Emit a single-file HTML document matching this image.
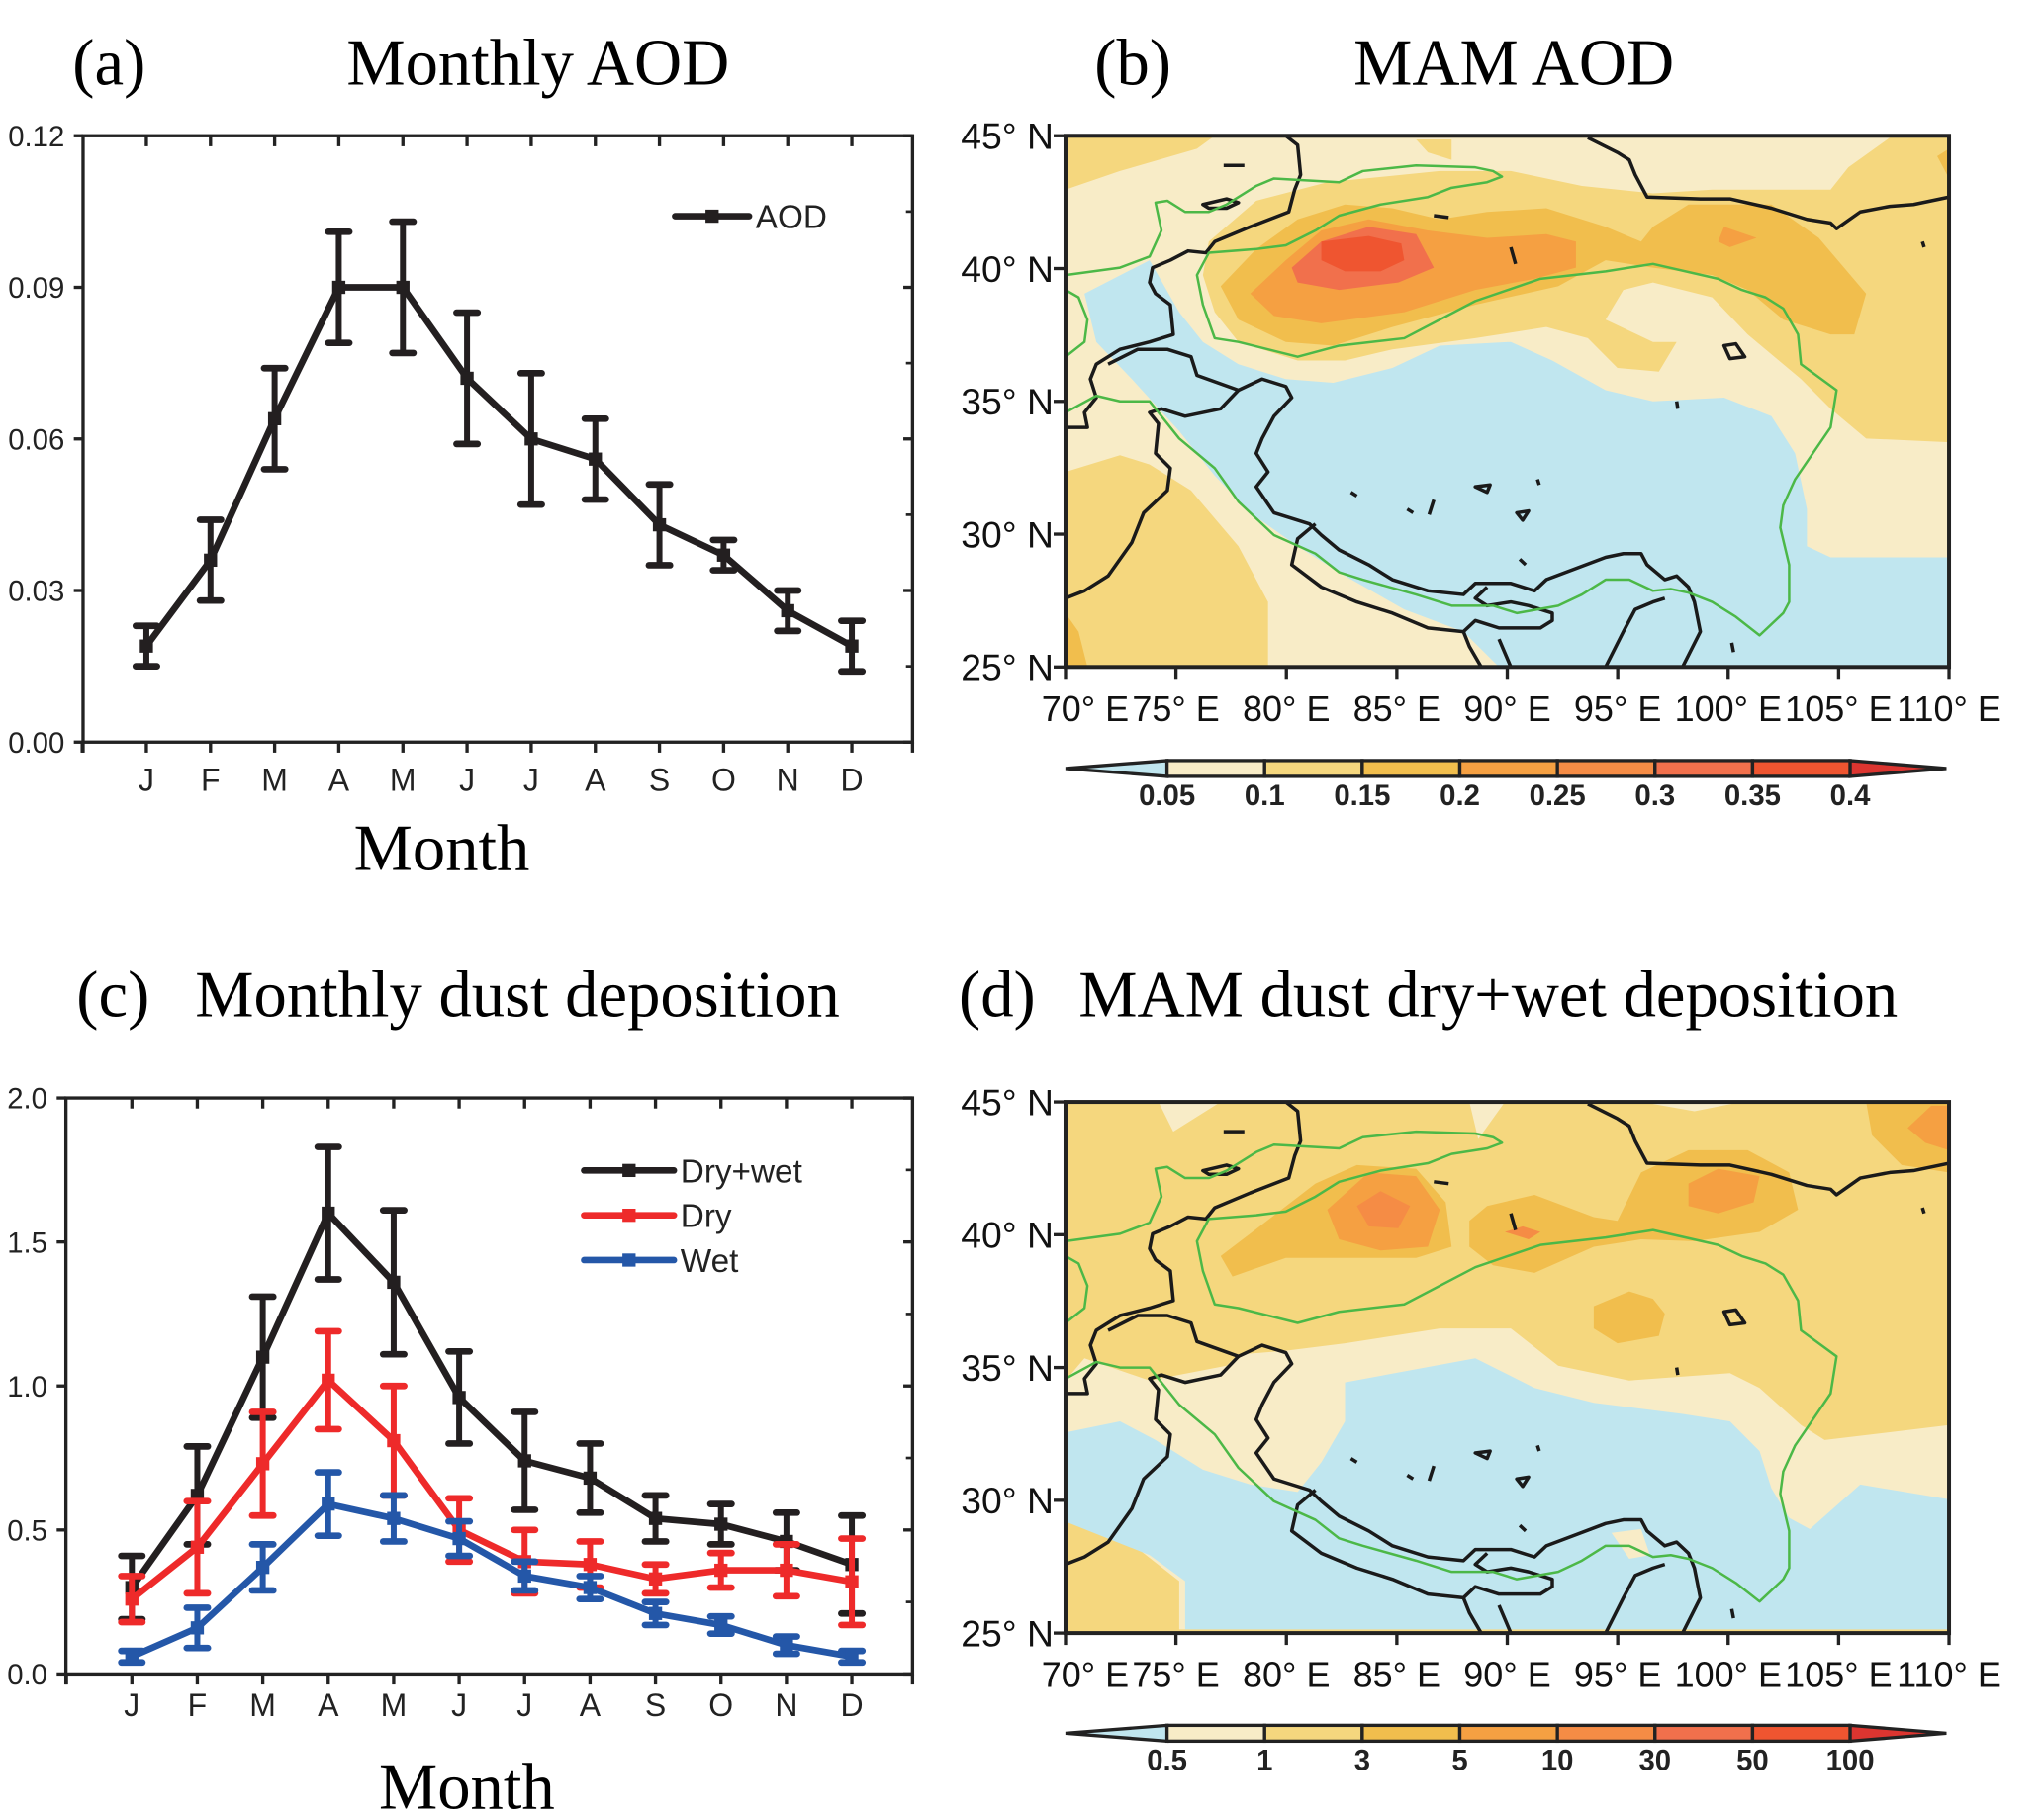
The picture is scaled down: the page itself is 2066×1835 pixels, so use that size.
<!DOCTYPE html>
<html><head><meta charset="utf-8"><style>
html,body{margin:0;padding:0;background:#fff;}
svg{display:block;}
.serif{font-family:"Liberation Serif",serif;}
.sans{font-family:"Liberation Sans",sans-serif;}
</style></head><body>
<svg id="root" width="2066" height="1835" viewBox="0 0 1550 1377" preserveAspectRatio="none" xmlns="http://www.w3.org/2000/svg">
<defs>
<g id="borders" fill="none" stroke="#1a1a1a" stroke-width="3.5" stroke-linejoin="round">
<path vector-effect="non-scaling-stroke" d="M380,45 L400,70 L405,150 L395,190 L385,250 L320,290 L260,330 L245,360 L215,355 L185,380 L155,400 L150,440 L160,470 L185,500 L190,580 L150,600 L100,620 L60,660 L50,700 L60,750 L40,790 L45,830 L8,830"/>
<path vector-effect="non-scaling-stroke" d="M8,1290 L40,1270 L80,1230 L120,1140 L140,1060 L180,1000 L185,940 L160,900 L165,820 L150,790 L170,780 L210,800 L270,780 L300,730 L230,690 L220,640 L180,620 L130,620 L80,660"/>
<path vector-effect="non-scaling-stroke" d="M300,730 L340,700 L380,720 L390,750 L360,800 L340,860 L330,900 L350,950 L330,990 L360,1060 L420,1090 L440,1120 L470,1160 L520,1200 L560,1240 L620,1270 L680,1280 L700,1250 L760,1250 L800,1270 L820,1240 L870,1210 L920,1180 L950,1170 L980,1170 L990,1200 L1020,1240 L1040,1230 L1060,1260 L1070,1300 L1080,1380 L1050,1475"/>
<path vector-effect="non-scaling-stroke" d="M430,1090 L400,1130 L390,1200 L440,1260 L500,1300 L560,1330 L620,1370 L680,1380 L700,1350 L740,1370 L810,1370 L830,1350 L830,1330 L790,1310 L760,1300 L720,1310 L700,1290 L720,1260"/>
<path vector-effect="non-scaling-stroke" d="M680,1380 L690,1420 L710,1475 M740,1400 L760,1475 M920,1475 L950,1380 L970,1320 L1000,1300 L1020,1290"/>
<path vector-effect="non-scaling-stroke" d="M890,50 L940,90 L960,110 L970,150 L990,210 L1080,215 L1130,215 L1200,240 L1260,270 L1300,280 L1310,295 L1350,250 L1400,235 L1440,230 L1500,210"/>
<path vector-effect="non-scaling-stroke" d="M240,230 L280,215 L300,225 L280,240 L250,240 Z M275,125 L310,125 M630,260 L655,265 M760,345 L768,390 M1120,610 L1140,605 L1155,640 L1130,645 Z M1040,760 L1042,780 M490,1005 L500,1015 M700,990 L725,985 L720,1005 Z M585,1050 L595,1060 M630,1025 L622,1065 M770,1060 L790,1055 L780,1080 Z M805,970 L808,985 M775,1185 L785,1200 M1455,330 L1458,345 M1133,1410 L1136,1435"/>
</g>
<g id="green" fill="none" stroke="#4cb847" stroke-width="2.5" stroke-linejoin="round">
<path vector-effect="non-scaling-stroke" d="M8,420 L100,400 L150,370 L170,300 L160,225 L180,220 L210,250 L250,250 L280,230 L330,180 L360,160 L470,170 L510,140 L600,125 L700,130 L730,140 L745,155 L720,170 L660,185 L620,210 L540,230 L470,260 L430,300 L380,340 L330,350 L250,360 L230,420 L240,500 L260,590 L300,600 L400,640 L470,610 L580,590 L700,490 L810,430 L920,410 L1000,390 L1110,430 L1150,460 L1190,480 L1220,510 L1245,580 L1250,660 L1310,730 L1300,830 L1270,900 L1240,970 L1220,1040 L1215,1100 L1230,1200 L1230,1300 L1220,1330 L1180,1390 L1140,1340 L1100,1300 L1060,1275 L1030,1265 L1000,1270 L960,1240 L920,1240 L880,1280 L840,1310 L770,1330 L730,1310 L660,1310 L600,1280 L510,1240 L470,1220 L430,1170 L360,1120 L300,1030 L260,940 L200,860 L150,760 L100,760 L60,745 L8,790"/>
<path vector-effect="non-scaling-stroke" d="M8,460 L30,480 L45,540 L40,600 L8,640"/>
</g>
</defs>

<text class="serif" x="55" y="64" font-size="50">(a)</text>
<text class="serif" x="408" y="64" font-size="50" text-anchor="middle">Monthly AOD</text>
<text class="serif" x="830" y="64" font-size="50">(b)</text>
<text class="serif" x="1148" y="64" font-size="50" text-anchor="middle">MAM AOD</text>
<text class="serif" x="58" y="771" font-size="50">(c)</text>
<text class="serif" x="148" y="771" font-size="50">Monthly dust deposition</text>
<text class="serif" x="727" y="771" font-size="50">(d)</text>
<text class="serif" x="818" y="771" font-size="50">MAM dust dry+wet deposition</text>

<g id="chartA"></g>
<g id="chartC"></g>

<svg x="808" y="103" width="670" height="403" viewBox="8 45 1492 1430" preserveAspectRatio="none">
<rect x="0" y="0" width="1600" height="1600" fill="#f8ecc7"/>
<path fill="#f5d77e" d="M8,45 L260,45 L230,80 L100,140 L8,190 Z"/>
<path fill="#f5d77e" d="M600,55 L660,55 L660,110 L620,90 Z"/>
<path fill="#f5d77e" d="M250,330 L330,220 L450,170 L640,140 L760,140 L880,180 L1000,200 L1100,190 L1300,190 L1330,130 L1400,50 L1500,50 L1500,870 L1360,860 L1300,780 L1250,700 L1160,580 L1100,480 L1000,440 L950,460 L920,540 L1000,600 L1040,600 L1010,680 L940,670 L890,590 L820,560 L700,590 L560,620 L480,650 L400,650 L300,600 L260,520 L240,420 Z"/>
<path fill="#f1be4d" d="M270,450 L330,350 L400,270 L480,230 L560,240 L640,270 L720,250 L820,240 L920,290 L980,330 L1000,290 L1060,230 L1200,230 L1280,320 L1360,470 L1340,580 L1300,580 L1220,540 L1160,460 L1100,420 L1000,400 L920,380 L840,450 L700,500 L560,560 L460,610 L380,600 L300,540 Z"/>
<path fill="#f1be4d" d="M1480,100 L1500,80 L1500,160 Z"/>
<path fill="#f5a042" d="M320,470 L380,380 L440,300 L520,270 L620,300 L720,320 L820,310 L870,330 L870,400 L800,430 L700,460 L580,520 L440,550 L360,530 Z"/>
<path fill="#f5a042" d="M1120,290 L1175,320 L1130,345 L1110,330 Z"/>
<path fill="#f1704c" d="M390,400 L440,330 L520,290 L600,310 L630,400 L570,440 L470,460 L400,440 Z"/>
<path fill="#ef5530" d="M440,330 L520,315 L575,335 L580,380 L540,410 L480,410 L440,380 Z"/>
<path fill="#c0e6ef" d="M40,470 L150,380 L200,520 L240,600 L300,660 L380,700 L460,710 L560,670 L640,610 L760,600 L830,650 L920,730 L1000,760 L1120,750 L1200,800 L1240,900 L1260,1050 L1260,1150 L1300,1180 L1400,1180 L1500,1180 L1500,1475 L740,1475 L680,1380 L580,1320 L480,1230 L400,1150 L320,1060 L260,960 L200,840 L120,700 L60,600 Z"/>
<path fill="#f5d77e" d="M8,950 L100,905 L150,930 L220,1000 L300,1150 L350,1300 L350,1475 L8,1475 Z"/>
<path fill="#f1be4d" d="M8,1330 L30,1380 L45,1475 L8,1475 Z"/>
<use href="#borders"/>
<use href="#green"/>
</svg>

<svg x="808" y="836" width="670" height="403" viewBox="8 45 1492 1430" preserveAspectRatio="none">
<rect x="0" y="0" width="1600" height="1600" fill="#f5d77e"/>
<g transform="translate(0,35)">
<path fill="#f8ecc7" d="M165,10 L270,10 L190,90 Z M690,10 L750,10 L705,110 Z M980,10 L1150,10 L1070,35 Z"/>
<path fill="#f8ecc7" d="M8,760 L40,700 L150,760 L280,720 L300,690 L380,680 L480,660 L640,620 L760,620 L840,720 L960,760 L1130,740 L1180,780 L1250,880 L1290,920 L1500,880 L1500,1430 L200,1430 L200,1300 L120,1200 L8,1140 Z"/>
<path fill="#c0e6ef" d="M8,900 L100,870 L160,920 L240,1000 L320,1040 L400,1060 L440,980 L480,870 L480,765 L700,700 L800,780 L900,820 L1050,850 L1130,870 L1180,950 L1200,1050 L1230,1130 L1265,1160 L1350,1040 L1500,1080 L1500,1430 L210,1430 L210,1300 L150,1230 L8,1140 Z"/>
<path fill="#f5d77e" d="M8,1320 L60,1380 L70,1430 L8,1430 Z"/>
<path fill="#f8ecc7" d="M930,1170 L980,1160 L995,1230 L960,1240 Z"/>
<path fill="#f1be4d" d="M270,425 L340,340 L430,230 L500,180 L600,190 L650,280 L660,400 L600,430 L500,430 L380,430 L290,480 Z"/>
<path fill="#f1be4d" d="M690,330 L720,290 L800,260 L900,320 L940,330 L980,200 L1060,140 L1160,140 L1230,200 L1245,300 L1180,360 L1070,385 L980,380 L900,400 L800,470 L730,450 L690,400 Z"/>
<path fill="#f1be4d" d="M900,560 L960,520 L1000,540 L1020,580 L1010,640 L940,660 L900,620 Z"/>
<path fill="#f1be4d" d="M1360,10 L1500,10 L1500,200 L1420,180 L1370,100 Z"/>
<path fill="#f5a042" d="M450,300 L520,200 L600,210 L640,300 L620,400 L540,410 L470,380 Z"/>
<path fill="#f5a042" d="M1060,230 L1110,190 L1180,210 L1170,280 L1110,310 L1060,290 Z"/>
<path fill="#f5a042" d="M1430,80 L1470,20 L1500,20 L1500,140 L1460,120 Z"/>
<path fill="#f58c45" d="M750,360 L780,345 L810,360 L790,380 Z"/>
<path fill="#f58c45" d="M500,290 L540,250 L590,290 L570,350 L520,345 Z"/>
</g>
<use href="#borders"/>
<use href="#green"/>
</svg>

<g id="mapAxes"></g>
<g id="cbars"></g>
</svg>

<script>
const months = ["J","F","M","A","M","J","J","A","S","O","N","D"];
const aodValues = [0.019,0.036,0.064,0.090,0.090,0.072,0.060,0.056,0.043,0.037,0.026,0.019];
const aodErrors = [0.004,0.008,0.010,0.011,0.013,0.013,0.013,0.008,0.008,0.003,0.004,0.005];
const aodTicks = ["0.00","0.03","0.06","0.09","0.12"];
const aodTickValues = [0,0.03,0.06,0.09,0.12];
const dryWetValues = [0.30,0.62,1.10,1.60,1.36,0.96,0.74,0.68,0.54,0.52,0.46,0.38];
const dryWetErrors = [0.11,0.17,0.21,0.23,0.25,0.16,0.17,0.12,0.08,0.07,0.10,0.17];
const dryValues = [0.26,0.44,0.73,1.02,0.81,0.50,0.39,0.38,0.33,0.36,0.36,0.32];
const dryErrors = [0.08,0.16,0.18,0.17,0.19,0.11,0.11,0.08,0.05,0.06,0.09,0.15];
const wetValues = [0.06,0.16,0.37,0.59,0.54,0.47,0.34,0.30,0.21,0.17,0.10,0.06];
const wetErrors = [0.02,0.07,0.08,0.11,0.08,0.06,0.05,0.04,0.04,0.03,0.03,0.02];
const depTicks = ["0.0","0.5","1.0","1.5","2.0"];
const depTickValues = [0,0.5,1.0,1.5,2.0];
const latLabels = ["45° N","40° N","35° N","30° N","25° N"];
const lonLabels = ["70° E","75° E","80° E","85° E","90° E","95° E","100° E","105° E","110° E"];
const aodLevels = ["0.05","0.1","0.15","0.2","0.25","0.3","0.35","0.4"];
const depLevels = ["0.5","1","3","5","10","30","50","100"];

const NS="http://www.w3.org/2000/svg";
function mk(tag, attrs, parent){const e=document.createElementNS(NS,tag);for(const k in attrs)e.setAttribute(k,attrs[k]);parent.appendChild(e);return e;}

function drawChart(g, box, yMax, tickVals, tickLbls, series, legend, monthY, titleY){
  const xS=i=>box.x0+(box.x1-box.x0)*i/11;
  const yS=v=>box.b-(box.b-box.t)*v/yMax;
  const fr=mk('rect',{x:box.L,y:box.t,width:box.R-box.L,height:box.b-box.t,fill:'none',stroke:'#222','stroke-width':2.5},g);
  
  
  tickVals.forEach((v,i)=>{
    const y=yS(v);
    mk('line',{x1:box.L-7,x2:box.L,y1:y,y2:y,stroke:'#222','stroke-width':2.5},g);
    mk('line',{x1:box.R-7,x2:box.R,y1:y,y2:y,stroke:'#222','stroke-width':2.5},g);
    if(i<tickVals.length-1){const ym=yS(v+(tickVals[1]-tickVals[0])/2);
      mk('line',{x1:box.R-5,x2:box.R,y1:ym,y2:ym,stroke:'#222','stroke-width':2},g);}
    const t=mk('text',{x:box.L-14,y:y+8,'text-anchor':'end','font-size':22,class:'sans',fill:'#222'},g);
    t.textContent=tickLbls[i];
    
    
  });
  for(let i=-1;i<=12;i++){
    const x=xS(i); if(x<box.L-1||x>box.R+1) continue;
    mk('line',{x1:x,x2:x,y1:box.b,y2:box.b+8,stroke:'#222','stroke-width':2.5},g);
    if(i>=0&&i<12) mk('line',{x1:x,x2:x,y1:box.t,y2:box.t+8,stroke:'#222','stroke-width':2.5},g);
  }
  mk('line',{x1:box.L,x2:box.L,y1:box.b,y2:box.b+8,stroke:'#222','stroke-width':2.5},g);
  mk('line',{x1:box.R,x2:box.R,y1:box.b,y2:box.b+8,stroke:'#222','stroke-width':2.5},g);
  months.forEach((m,i)=>{
    const t=mk('text',{x:xS(i),y:monthY,'text-anchor':'middle','font-size':24,class:'sans',fill:'#222'},g);
    t.textContent=m;
    
    
  });
  const tt=mk('text',{x:box.titleX,y:titleY,'text-anchor':'middle','font-size':50,class:'serif'},g);
  tt.textContent='Month';
  
  
  series.forEach(s=>{
    const sg=mk('g',{},g);
    
    
    s.vals.forEach((v,i)=>{
      const x=xS(i),yh=yS(v+s.err[i]),yl=yS(v-s.err[i]);
      mk('line',{x1:x,x2:x,y1:yh,y2:yl,stroke:s.color,'stroke-width':4.5},sg);
      mk('line',{x1:x-8,x2:x+8,y1:yh,y2:yh,stroke:s.color,'stroke-width':5,'stroke-linecap':'round'},sg);
      mk('line',{x1:x-8,x2:x+8,y1:yl,y2:yl,stroke:s.color,'stroke-width':5,'stroke-linecap':'round'},sg);
    });
    const pts=s.vals.map((v,i)=>xS(i)+','+yS(v)).join(' ');
    mk('polyline',{points:pts,fill:'none',stroke:s.color,'stroke-width':5,'stroke-linejoin':'round'},sg);
    s.vals.forEach((v,i)=>{mk('rect',{x:xS(i)-5,y:yS(v)-5,width:10,height:10,fill:s.color},sg);});
  });
  legend.forEach(l=>{
    const lg=mk('g',{},g);
    
    
    mk('line',{x1:l.x,x2:l.x+l.w,y1:l.y,y2:l.y,stroke:l.color,'stroke-width':5,'stroke-linecap':'round'},lg);
    mk('rect',{x:l.x+l.w/2-5,y:l.y-5,width:10,height:10,fill:l.color},lg);
    const t=mk('text',{x:l.x+l.w+5,y:l.y+9,'font-size':25,class:'sans',fill:'#222'},lg);
    t.textContent=l.label;
  });
}

drawChart(document.getElementById('chartA'),
  {L:63,R:692,t:103,b:563,x0:111,x1:646,titleX:335},
  0.12, aodTickValues, aodTicks,
  [{name:'aod-series',vals:aodValues,err:aodErrors,color:'#231f20'}],
  [{x:512,y:164,w:56,color:'#231f20',label:'AOD'}], 600, 660);

drawChart(document.getElementById('chartC'),
  {L:50,R:692,t:833,b:1270,x0:100,x1:646,titleX:354},
  2.0, depTickValues, depTicks,
  [{name:'dry-wet-series',vals:dryWetValues,err:dryWetErrors,color:'#231f20'},
   {name:'dry-series',vals:dryValues,err:dryErrors,color:'#ee2a2a'},
   {name:'wet-series',vals:wetValues,err:wetErrors,color:'#2457a8'}],
  [{x:443,y:888,w:68,color:'#231f20',label:'Dry+wet'},
   {x:443,y:922,w:68,color:'#ee2a2a',label:'Dry'},
   {x:443,y:956,w:68,color:'#2457a8',label:'Wet'}], 1302, 1372);

const ma=document.getElementById('mapAxes');
[103,836].forEach(top=>{
  const L=808,R=1478,B=top+403;
  const fr=mk('rect',{x:L,y:top,width:R-L,height:B-top,fill:'none',stroke:'#222','stroke-width':3},ma);
  
  
  latLabels.forEach((s,i)=>{
    const y=top+403*i/4;
    mk('line',{x1:L-9,x2:L,y1:y,y2:y,stroke:'#222','stroke-width':2.5},ma);
    const t=mk('text',{x:L-9,y:y+10,'text-anchor':'end','font-size':28,class:'sans',fill:'#111'},ma);
    t.textContent=s;
    
    
  });
  lonLabels.forEach((s,i)=>{
    const x=L+(R-L)*i/8;
    mk('line',{x1:x,x2:x,y1:B,y2:B+9,stroke:'#222','stroke-width':2.5},ma);
    const t=mk('text',{x:x+(i==0?15:0),y:B+41,'text-anchor':'middle','font-size':27,class:'sans',fill:'#111'},ma);
    t.textContent=s;
    
    
  });
});

const cb=document.getElementById('cbars');
const cbColors=['#f8ecc7','#f5d77e','#f1be4d','#f5a042','#f58c45','#f1704c','#ef5530'];
[[577,aodLevels],[1309,depLevels]].forEach(([y0,lv])=>{
  const x0=885,seg=74,h=12,xe=x0+seg*7;
  const g=mk('g',{},cb);
  
  
  mk('polygon',{points:`808,${y0+h/2} ${x0},${y0} ${x0},${y0+h}`,fill:'#c0e6ef',stroke:'#222','stroke-width':2.5},g);
  cbColors.forEach((c,i)=>{mk('rect',{x:x0+i*seg,y:y0,width:seg,height:h,fill:c,stroke:'#222','stroke-width':2.5},g);});
  mk('polygon',{points:`${xe},${y0} ${xe},${y0+h} 1476,${y0+h/2}`,fill:'#dc3530',stroke:'#222','stroke-width':2.5},g);
  lv.forEach((s,i)=>{
    const t=mk('text',{x:x0+i*seg,y:y0+h+22,'text-anchor':'middle','font-size':22,'font-weight':'bold',class:'sans',fill:'#222'},g);
    t.textContent=s;
    
    
  });
});
</script>
</body></html>
